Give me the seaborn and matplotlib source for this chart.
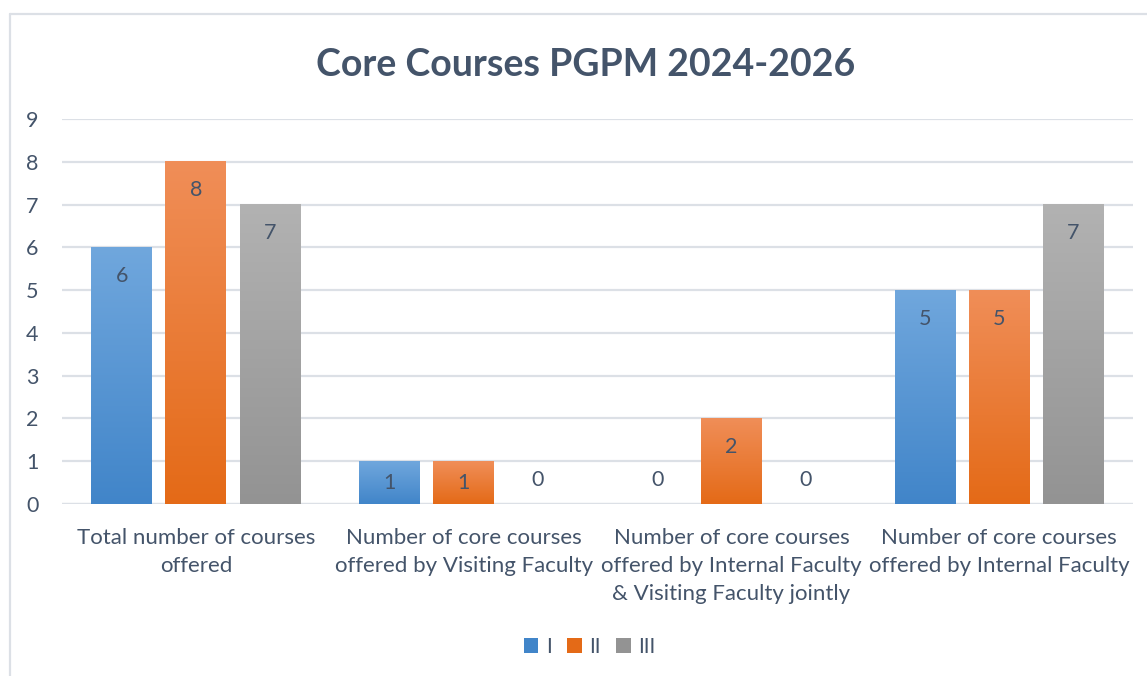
import matplotlib
matplotlib.use("Agg")
import matplotlib.pyplot as plt
import seaborn as sns
import pandas as pd
import numpy as np
from matplotlib.colors import LinearSegmentedColormap
from matplotlib.patches import Patch
from matplotlib.lines import Line2D

# data
categories = [
    "Total number of courses\noffered",
    "Number of core courses\noffered by Visiting Faculty",
    "Number of core courses\noffered by Internal Faculty\n& Visiting Faculty jointly",
    "Number of core courses\noffered by Internal Faculty",
]
series = ["I", "II", "III"]
values_I = [6, 1, 0, 5]
values_II = [8, 1, 2, 5]
values_III = [7, 0, 0, 7]

df = pd.DataFrame({"category": categories, "I": values_I, "II": values_II, "III": values_III})
df = df.melt(id_vars="category", var_name="series", value_name="count")

# excel-ish gradient colours (bottom, top)
grads = {
    "I": ("#4185C9", "#70A7DD"),
    "II": ("#E46A17", "#F08E58"),
    "III": ("#939393", "#B2B2B2"),
}
mid = {k: v[0] for k, v in grads.items()}
text_col = "#44546A"
grid_col = "#DCE0E6"

sns.set_theme(style="white")
plt.rcParams['font.family'] = ['Lato', 'DejaVu Sans']

fig, ax = plt.subplots(figsize=(11.47, 6.76), dpi=100)
fig.subplots_adjust(left=0.054, right=0.988, bottom=0.2544, top=0.824)

sns.barplot(data=df, x="category", y="count", hue="series", hue_order=series,
            order=categories, palette=mid, width=0.83, gap=0.18,
            errorbar=None, legend=False, ax=ax)

grad = np.linspace(1, 0, 256).reshape(-1, 1)
for s, cont in zip(series, ax.containers):
    cmap = LinearSegmentedColormap.from_list(s, list(grads[s]))
    for p in cont.patches:
        x, y, w, h = p.get_x(), p.get_y(), p.get_width(), p.get_height()
        if h > 0:
            ax.imshow(grad, extent=[x, x + w, y, y + h], cmap=cmap, aspect="auto",
                      vmin=0, vmax=1, zorder=p.get_zorder() + 0.1)
        p.set_facecolor("none")
        p.set_edgecolor("none")
        # data labels, inside end like excel
        v = h
        if v >= 2:
            ly = v - 0.67
        elif v > 0:
            ly = v / 2
        else:
            ly = 0.55
        ax.text(x + w / 2, ly, f"{int(v)}", ha="center", va="center",
                fontsize=15.5, color=text_col, zorder=5)

ax.set_xlim(-0.5, len(categories) - 0.5)
ax.set_ylim(0, 9)
ax.set_yticks(range(0, 10))
ax.yaxis.grid(True, color=grid_col, linewidth=1.6)
ax.set_axisbelow(True)
for sp in ax.spines.values():
    sp.set_visible(False)
ax.axhline(0, color=grid_col, linewidth=1.6, zorder=0.5)
ax.tick_params(axis="y", length=0, pad=17, labelsize=15.5, labelcolor=text_col)
ax.tick_params(axis="x", length=0, pad=17, labelsize=16, labelcolor=text_col)
for lab in ax.get_xticklabels():
    lab.set_linespacing(1.5)
ax.set_xlabel("")
ax.set_ylabel("")

fig.suptitle("Core Courses PGPM 2024-2026", x=0.511, y=0.904, fontsize=27,
             fontweight="bold", color=text_col, va="center")

handles = [Patch(facecolor=mid[s], edgecolor="none") for s in series]
fig.legend(handles, series, loc="center", bbox_to_anchor=(0.514, 0.043), ncol=3,
           frameon=False, fontsize=15, labelcolor=text_col, handlelength=0.7,
           handleheight=0.7, handletextpad=0.35, columnspacing=0.75)

# chart area border (cropped on right and bottom)
fig.add_artist(Line2D([10 / 1147, 1.0], [1 - 14 / 676, 1 - 14 / 676],
                      transform=fig.transFigure, color=grid_col, linewidth=1.6))
fig.add_artist(Line2D([10 / 1147, 10 / 1147], [0, 1 - 14 / 676],
                      transform=fig.transFigure, color=grid_col, linewidth=1.6))

fig.savefig("out.png", dpi=100)
